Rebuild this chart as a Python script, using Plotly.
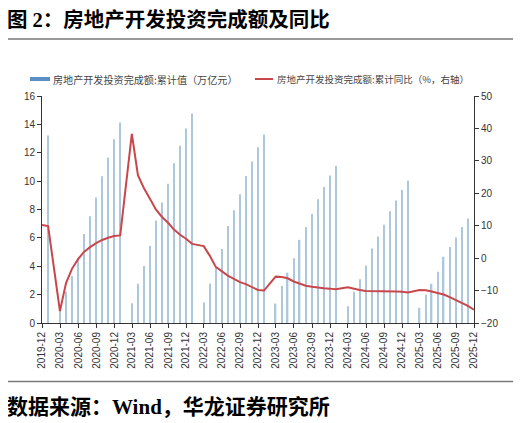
import pandas as pd
import plotly.graph_objects as go

# ---- data ----
months_amt = ["2019-12",
    "2020-02","2020-03","2020-04","2020-05","2020-06","2020-07","2020-08","2020-09","2020-10","2020-11","2020-12",
    "2021-02","2021-03","2021-04","2021-05","2021-06","2021-07","2021-08","2021-09","2021-10","2021-11","2021-12",
    "2022-02","2022-03","2022-04","2022-05","2022-06","2022-07","2022-08","2022-09","2022-10","2022-11","2022-12",
    "2023-02","2023-03","2023-04","2023-05","2023-06","2023-07","2023-08","2023-09","2023-10","2023-11","2023-12",
    "2024-02","2024-03","2024-04","2024-05","2024-06","2024-07","2024-08","2024-09","2024-10","2024-11","2024-12",
    "2025-02","2025-03","2025-04","2025-05","2025-06","2025-07","2025-08","2025-09","2025-10"]
amount = [13.22,
    1.01, 2.20, 3.31, 4.59, 6.28, 7.53, 8.85, 10.35, 11.67, 12.95, 14.14,
    1.40, 2.76, 4.02, 5.43, 7.22, 8.49, 9.81, 11.26, 12.49, 13.71, 14.76,
    1.45, 2.78, 3.92, 5.21, 6.83, 7.95, 9.08, 10.36, 11.39, 12.39, 13.29,
    1.37, 2.60, 3.55, 4.57, 5.86, 6.77, 7.69, 8.73, 9.59, 10.40, 11.09,
    1.18, 2.21, 3.09, 4.06, 5.25, 6.09, 6.93, 7.87, 8.63, 9.37, 10.03,
    1.07, 1.99, 2.77, 3.62, 4.67, 5.36, 6.03, 6.77, 7.36]

months_yoy = ["2019-11"] + months_amt + ["2025-11"]
yoy = [10.2, 9.9,
    -16.3, -7.7, -3.3, -0.3, 1.9, 3.4, 4.6, 5.6, 6.3, 6.8, 7.0,
    38.3, 25.6, 21.6, 18.3, 15.0, 12.7, 10.9, 8.8, 7.2, 6.0, 4.4,
    3.7, 0.7, -2.7, -4.0, -5.4, -6.4, -7.4, -8.0, -8.8, -9.8, -10.0,
    -5.7, -5.8, -6.2, -7.2, -7.9, -8.5, -8.8, -9.1, -9.3, -9.4, -9.6,
    -9.0, -9.5, -9.8, -10.1, -10.1, -10.2, -10.2, -10.1, -10.3, -10.4, -10.6,
    -9.8, -9.9, -10.3, -10.7, -11.2, -12.0, -12.9, -13.9, -14.7, -15.9]

name_amt = "房地产开发投资完成额:累计值（万亿元）"
name_yoy = "房地产开发投资完成额:累计同比（%，右轴）"
title_text = "图 2：房地产开发投资完成额及同比"
source_text = "数据来源：Wind，华龙证券研究所"

# month-end dates (Excel-like date axis)
x_amt = [d.strftime("%Y-%m-%d") for d in (pd.to_datetime(months_amt) + pd.offsets.MonthEnd(0))]
x_yoy = [d.strftime("%Y-%m-%d") for d in (pd.to_datetime(months_yoy) + pd.offsets.MonthEnd(0))]

BAR_C = "#adc8dc"
LINE_C = "#c9474b"
SWATCH_C = "#5b8ec6"
AX_C = "#333333"
OFF = 8  # page body margin
W, H = 521 - OFF, 423 - OFF
L, T = 42 - OFF, 96 - OFF
R = W - (474 - OFF)
B = H - (323.3 - OFF)
pw, ph = W - L - R, H - T - B

def px_x(v):  # reference window pixel -> paper x
    return (v - OFF - L) / pw

def px_y(v):  # reference window pixel -> paper y
    return 1 - (v - OFF - T) / ph

fig = go.Figure()
fig.add_trace(go.Bar(x=x_amt, y=amount, name=name_amt, marker_color=BAR_C,
                     marker_line_width=0, width=7 * 86400000, yaxis="y"))
fig.add_trace(go.Scatter(x=x_yoy, y=yoy, mode="lines", name=name_yoy,
                         line=dict(color=LINE_C, width=2), yaxis="y2"))

tickfont = dict(family="Liberation Sans, Arial", size=10, color=AX_C)
legfont1 = dict(family="Noto Sans CJK SC", size=10.1, color="#444444")
legfont2 = dict(family="Noto Sans CJK SC", size=9.5, color="#444444")
fig.update_layout(
    width=W, height=H, margin=dict(l=L, r=R, t=T, b=B),
    paper_bgcolor="white", plot_bgcolor="white",
    showlegend=False,
    xaxis=dict(type="date", range=["2019-11-30", "2025-12-01"], tick0="2019-12-01", dtick="M3",
               tickformat="%Y-%m", tickangle=-90, ticks="outside", ticklen=4, tickcolor=AX_C,
               showline=True, linecolor=AX_C, linewidth=1, showgrid=False, zeroline=False,
               tickfont=tickfont, automargin=False),
    yaxis=dict(range=[0, 16], dtick=2, ticks="outside", ticklen=4, tickcolor=AX_C,
               showline=True, linecolor=AX_C, linewidth=1, showgrid=False, zeroline=False,
               tickfont=tickfont, automargin=False),
    yaxis2=dict(range=[-20, 50], dtick=10, overlaying="y", side="right", ticks="outside",
                ticklen=4, tickcolor=AX_C, showline=True, linecolor=AX_C, linewidth=1,
                showgrid=False, zeroline=False, tickfont=tickfont, automargin=False),
    shapes=[
        dict(type="rect", xref="paper", yref="paper", x0=px_x(5), x1=px_x(540),
             y0=px_y(382), y1=px_y(39), line=dict(color="#7a7a7a", width=1.5),
             fillcolor="rgba(0,0,0,0)", layer="below"),
        # legend swatches
        dict(type="line", xref="paper", yref="paper", x0=px_x(30), x1=px_x(50),
             y0=px_y(79), y1=px_y(79), line=dict(color=SWATCH_C, width=4)),
        dict(type="line", xref="paper", yref="paper", x0=px_x(255), x1=px_x(273),
             y0=px_y(79), y1=px_y(79), line=dict(color=LINE_C, width=2)),
    ],
    annotations=[
        dict(text="<b>" + title_text + "</b>", xref="paper", yref="paper", x=px_x(5), y=px_y(19.5),
             xanchor="left", yanchor="middle", showarrow=False,
             font=dict(family="Liberation Serif, Noto Sans CJK SC", size=20.5, color="black")),
        dict(text="<b>" + source_text + "</b>", xref="paper", yref="paper", x=px_x(5), y=px_y(407),
             xanchor="left", yanchor="middle", showarrow=False,
             font=dict(family="Liberation Serif, Noto Sans CJK SC", size=21, color="black")),
        dict(text=name_amt, xref="paper", yref="paper", x=px_x(51), y=px_y(79),
             xanchor="left", yanchor="middle", showarrow=False, font=legfont1),
        dict(text=name_yoy, xref="paper", yref="paper", x=px_x(275), y=px_y(79),
             xanchor="left", yanchor="middle", showarrow=False, font=legfont2),
    ],
)

fig.write_html("out.html")
